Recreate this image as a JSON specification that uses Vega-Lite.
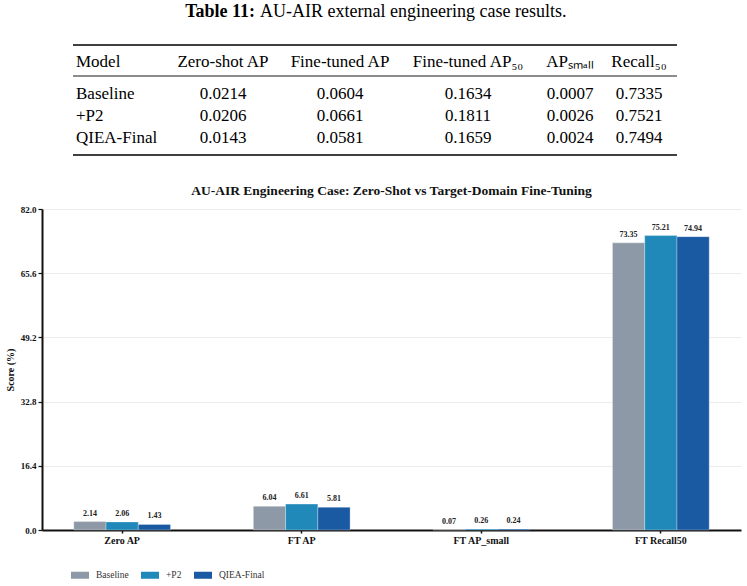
{
  "$schema": "https://vega.github.io/schema/vega-lite/v6.json",
  "background": "white",
  "padding": {"left": 5, "top": 0, "right": 5, "bottom": 2},
  "bounds": "flush",
  "spacing": 39,
  "config": {"view": {"stroke": null}, "font": "Liberation Serif"},
  "datasets": {
    "caption": [
      {"row": -1, "part": "label", "text": "Table 11:"},
      {"row": -1, "part": "body", "text": "AU-AIR external engineering case results."}
    ],
    "rules": [
      {"rule": "top", "row": -0.5, "start": 0, "end": 6},
      {"rule": "mid", "row": 0.5, "start": 0, "end": 6},
      {"rule": "bottom", "row": 3.5, "start": 0, "end": 6}
    ],
    "header": [
      {"row": 0, "col": 0, "label": "Model"},
      {"row": 0, "col": 1, "label": "Zero-shot AP"},
      {"row": 0, "col": 2, "label": "Fine-tuned AP"},
      {"row": 0, "col": 3, "label": "Fine-tuned AP₅₀"},
      {"row": 0, "col": 4, "label": "APₛₘₐₗₗ"},
      {"row": 0, "col": 5, "label": "Recall₅₀"}
    ],
    "models": [
      {"row": 1, "col": 0, "model": "Baseline"},
      {"row": 2, "col": 0, "model": "+P2"},
      {"row": 3, "col": 0, "model": "QIEA-Final"}
    ],
    "cells": [
      {"row": 1, "col": 1, "value": 0.0214},
      {"row": 1, "col": 2, "value": 0.0604},
      {"row": 1, "col": 3, "value": 0.1634},
      {"row": 1, "col": 4, "value": 0.0007},
      {"row": 1, "col": 5, "value": 0.7335},
      {"row": 2, "col": 1, "value": 0.0206},
      {"row": 2, "col": 2, "value": 0.0661},
      {"row": 2, "col": 3, "value": 0.1811},
      {"row": 2, "col": 4, "value": 0.0026},
      {"row": 2, "col": 5, "value": 0.7521},
      {"row": 3, "col": 1, "value": 0.0143},
      {"row": 3, "col": 2, "value": 0.0581},
      {"row": 3, "col": 3, "value": 0.1659},
      {"row": 3, "col": 4, "value": 0.0024},
      {"row": 3, "col": 5, "value": 0.7494}
    ],
    "scores": [
      {"metric": "Zero AP", "model": "Baseline", "score": 2.14},
      {"metric": "Zero AP", "model": "+P2", "score": 2.06},
      {"metric": "Zero AP", "model": "QIEA-Final", "score": 1.43},
      {"metric": "FT AP", "model": "Baseline", "score": 6.04},
      {"metric": "FT AP", "model": "+P2", "score": 6.61},
      {"metric": "FT AP", "model": "QIEA-Final", "score": 5.81},
      {"metric": "FT AP_small", "model": "Baseline", "score": 0.07},
      {"metric": "FT AP_small", "model": "+P2", "score": 0.26},
      {"metric": "FT AP_small", "model": "QIEA-Final", "score": 0.24},
      {"metric": "FT Recall50", "model": "Baseline", "score": 73.35},
      {"metric": "FT Recall50", "model": "+P2", "score": 75.21},
      {"metric": "FT Recall50", "model": "QIEA-Final", "score": 74.94}
    ]
  },
  "vconcat": [
    {
      "width": 666,
      "height": 170,
      "layer": [
        {
          "data": {"name": "rules"},
          "transform": [{"filter": "datum.rule !== 'mid'"}],
          "mark": {"type": "rule", "color": "#000", "strokeWidth": 1.7},
          "encoding": {
            "y": {"field": "row", "type": "quantitative", "scale": {"domain": [-1, -0.5, 0, 0.5, 1, 3, 3.5], "range": [12, 45, 62, 76, 94, 138, 155], "nice": false, "zero": false}, "axis": null},
            "x": {"field": "start", "type": "quantitative", "scale": {"domain": [0, 1, 2, 3, 4, 5, 6], "range": [31, 181, 298, 426, 528, 597, 635], "nice": false, "zero": false}, "axis": null},
            "x2": {"field": "end"}
          }
        },
        {
          "data": {"name": "rules"},
          "transform": [{"filter": "datum.rule === 'mid'"}],
          "mark": {"type": "rule", "color": "#000", "strokeWidth": 0.9},
          "encoding": {
            "y": {"field": "row", "type": "quantitative"},
            "x": {"field": "start", "type": "quantitative"},
            "x2": {"field": "end"}
          }
        },
        {
          "data": {"name": "caption"},
          "transform": [{"filter": "datum.part === 'label'"}],
          "mark": {"type": "text", "align": "right", "baseline": "middle", "dx": -120, "fontSize": 18, "fontWeight": "bold", "color": "#000"},
          "encoding": {
            "y": {"field": "row", "type": "quantitative"},
            "text": {"field": "text"}
          }
        },
        {
          "data": {"name": "caption"},
          "transform": [{"filter": "datum.part === 'body'"}],
          "mark": {"type": "text", "align": "left", "baseline": "middle", "dx": -115, "fontSize": 18, "color": "#000"},
          "encoding": {
            "y": {"field": "row", "type": "quantitative"},
            "text": {"field": "text"}
          }
        },
        {
          "data": {"name": "header"},
          "transform": [{"filter": "datum.col === 0"}],
          "mark": {"type": "text", "align": "left", "baseline": "middle", "dx": 3, "fontSize": 17, "color": "#000"},
          "encoding": {
            "x": {"field": "col", "type": "quantitative"},
            "y": {"field": "row", "type": "quantitative"},
            "text": {"field": "label"}
          }
        },
        {
          "data": {"name": "header"},
          "transform": [{"filter": "datum.col > 0"}],
          "mark": {"type": "text", "align": "center", "baseline": "middle", "fontSize": 17, "color": "#000"},
          "encoding": {
            "x": {"field": "col", "type": "quantitative"},
            "y": {"field": "row", "type": "quantitative"},
            "text": {"field": "label"}
          }
        },
        {
          "data": {"name": "models"},
          "mark": {"type": "text", "align": "left", "baseline": "middle", "dx": 3, "fontSize": 17, "color": "#000"},
          "encoding": {
            "x": {"field": "col", "type": "quantitative"},
            "y": {"field": "row", "type": "quantitative"},
            "text": {"field": "model"}
          }
        },
        {
          "data": {"name": "cells"},
          "mark": {"type": "text", "align": "center", "baseline": "middle", "fontSize": 17, "color": "#000"},
          "encoding": {
            "x": {"field": "col", "type": "quantitative"},
            "y": {"field": "row", "type": "quantitative"},
            "text": {"field": "value", "format": ".4f"}
          }
        }
      ]
    },
    {
      "width": 699,
      "height": 321,
      "data": {"name": "scores"},
      "title": {"text": "AU-AIR Engineering Case: Zero-Shot vs Target-Domain Fine-Tuning", "font": "Liberation Serif", "fontSize": 13.5, "fontWeight": "bold", "color": "#111", "offset": 8, "anchor": "middle"},
      "encoding": {
        "x": {
          "field": "metric", "type": "nominal",
          "sort": ["Zero AP", "FT AP", "FT AP_small", "FT Recall50"],
          "scale": {"paddingInner": 0.4613, "paddingOuter": 0.177},
          "axis": {"title": null, "labelAngle": 0, "labelFont": "Liberation Serif", "labelFontSize": 10, "labelFontWeight": "bold", "labelColor": "#111", "labelPadding": 2, "domainColor": "#111", "domainWidth": 2, "tickColor": "#111", "tickSize": 3, "tickWidth": 1.5, "grid": false}
        },
        "xOffset": {"field": "model", "type": "nominal", "sort": ["Baseline", "+P2", "QIEA-Final"], "scale": {"paddingInner": 0, "paddingOuter": 0}},
        "y": {
          "field": "score", "type": "quantitative",
          "scale": {"domain": [0, 82], "nice": false, "zero": true},
          "axis": {"title": "Score (%)", "titleFont": "Liberation Serif", "titleFontSize": 10, "titleFontWeight": "bold", "titleColor": "#111", "titlePadding": 5, "values": [0, 16.4, 32.8, 49.2, 65.6, 82], "format": ".1f", "labelFont": "Liberation Serif", "labelFontSize": 9, "labelFontWeight": "bold", "labelColor": "#111", "labelPadding": 2, "domainColor": "#111", "domainWidth": 2, "tickColor": "#111", "tickSize": 4, "tickWidth": 1.2, "grid": true, "gridColor": "#e9e9e9", "gridWidth": 0.8}
        }
      },
      "layer": [
        {
          "mark": {"type": "bar", "stroke": "white", "strokeWidth": 0.6, "strokeOpacity": 0.5},
          "encoding": {
            "color": {
              "field": "model", "type": "nominal",
              "sort": ["Baseline", "+P2", "QIEA-Final"],
              "scale": {"domain": ["Baseline", "+P2", "QIEA-Final"], "range": ["#8D99A6", "#2189B9", "#1A5AA2"]},
              "legend": {"title": null, "orient": "none", "legendX": 29, "legendY": 566, "direction": "horizontal", "symbolType": "M-1,-0.39H1V0.39H-1Z", "symbolSize": 324, "symbolStrokeWidth": 0, "labelFont": "Liberation Serif", "labelFontSize": 9.5, "labelColor": "#333", "labelOffset": 7, "columnPadding": 12}
            }
          }
        },
        {
          "mark": {"type": "text", "baseline": "bottom", "dy": -4, "font": "Liberation Serif", "fontSize": 8, "fontWeight": "bold", "color": "#222"},
          "encoding": {"text": {"field": "score", "type": "quantitative", "format": ".2f"}}
        }
      ]
    }
  ]
}
